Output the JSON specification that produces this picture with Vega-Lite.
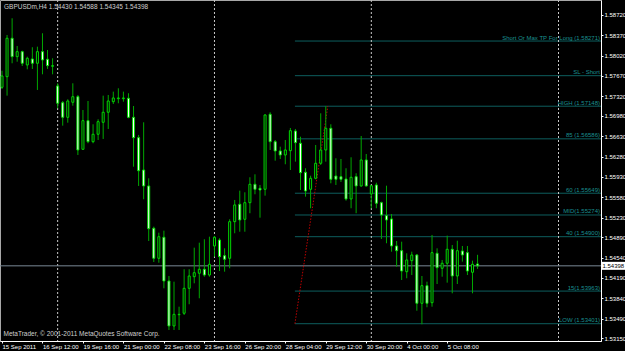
{
  "$schema": "https://vega.github.io/schema/vega-lite/v6.json",
  "width": 601,
  "height": 341,
  "autosize": {"type": "none"},
  "padding": {"left": 0, "top": 0, "right": 24, "bottom": 10},
  "background": "#000000",
  "config": {"view": {"stroke": "#a8a8a8", "strokeWidth": 1}, "axis": {"labelOverlap": false, "labelFlush": false, "grid": false}},
  "datasets": {
    "candles": [
      {"i":0,"o":1.57474,"h":1.57760,"l":1.57445,"c":1.57669},
      {"i":1,"o":1.57657,"h":1.58375,"l":1.57330,"c":1.58319},
      {"i":2,"o":1.58319,"h":1.58663,"l":1.57888,"c":1.58002},
      {"i":3,"o":1.58002,"h":1.58186,"l":1.57915,"c":1.58088},
      {"i":4,"o":1.58088,"h":1.58105,"l":1.57841,"c":1.57888},
      {"i":5,"o":1.57859,"h":1.58002,"l":1.57784,"c":1.57974},
      {"i":6,"o":1.57962,"h":1.58164,"l":1.57790,"c":1.57888},
      {"i":7,"o":1.57888,"h":1.58174,"l":1.57428,"c":1.58088},
      {"i":8,"o":1.58088,"h":1.58405,"l":1.57698,"c":1.57945},
      {"i":9,"o":1.57957,"h":1.58117,"l":1.57790,"c":1.57847},
      {"i":10,"o":1.57836,"h":1.57974,"l":1.57698,"c":1.57847},
      {"i":11,"o":1.57497,"h":1.57543,"l":1.57113,"c":1.57199},
      {"i":12,"o":1.57209,"h":1.57238,"l":1.56813,"c":1.56957},
      {"i":13,"o":1.56957,"h":1.57268,"l":1.56864,"c":1.57238},
      {"i":14,"o":1.57216,"h":1.57543,"l":1.57157,"c":1.57312},
      {"i":15,"o":1.57312,"h":1.57342,"l":1.56308,"c":1.56394},
      {"i":16,"o":1.56406,"h":1.57083,"l":1.56394,"c":1.56899},
      {"i":17,"o":1.56899,"h":1.57238,"l":1.56510,"c":1.56537},
      {"i":18,"o":1.56537,"h":1.56837,"l":1.56510,"c":1.56665},
      {"i":19,"o":1.56665,"h":1.56923,"l":1.56566,"c":1.56882},
      {"i":20,"o":1.56871,"h":1.57330,"l":1.56584,"c":1.57044},
      {"i":21,"o":1.57044,"h":1.57342,"l":1.56756,"c":1.57238},
      {"i":22,"o":1.57226,"h":1.57399,"l":1.57187,"c":1.57290},
      {"i":23,"o":1.57278,"h":1.57457,"l":1.57199,"c":1.57290},
      {"i":24,"o":1.57278,"h":1.57399,"l":1.57226,"c":1.57290},
      {"i":25,"o":1.57285,"h":1.57371,"l":1.56940,"c":1.56957},
      {"i":26,"o":1.56957,"h":1.57152,"l":1.56106,"c":1.56606},
      {"i":27,"o":1.56606,"h":1.56653,"l":1.55774,"c":1.56037},
      {"i":28,"o":1.56049,"h":1.56871,"l":1.55545,"c":1.55774},
      {"i":29,"o":1.55774,"h":1.55906,"l":1.54826,"c":1.55038},
      {"i":30,"o":1.55045,"h":1.55073,"l":1.54464,"c":1.54528},
      {"i":31,"o":1.54528,"h":1.54969,"l":1.54452,"c":1.54900},
      {"i":32,"o":1.54890,"h":1.55004,"l":1.54011,"c":1.54137},
      {"i":33,"o":1.54137,"h":1.54223,"l":1.53293,"c":1.53362},
      {"i":34,"o":1.53362,"h":1.54125,"l":1.53293,"c":1.53563},
      {"i":35,"o":1.53556,"h":1.53694,"l":1.53293,"c":1.53563},
      {"i":36,"o":1.53581,"h":1.54339,"l":1.53551,"c":1.54011},
      {"i":37,"o":1.54011,"h":1.54339,"l":1.53736,"c":1.54223},
      {"i":38,"o":1.54211,"h":1.54711,"l":1.54097,"c":1.54280},
      {"i":39,"o":1.54270,"h":1.54797,"l":1.53839,"c":1.54339},
      {"i":40,"o":1.54339,"h":1.54856,"l":1.54211,"c":1.54240},
      {"i":41,"o":1.54240,"h":1.54900,"l":1.54211,"c":1.54425},
      {"i":42,"o":1.54740,"h":1.54912,"l":1.54556,"c":1.54890},
      {"i":43,"o":1.54843,"h":1.54873,"l":1.54309,"c":1.54556},
      {"i":44,"o":1.54573,"h":1.54700,"l":1.54297,"c":1.54511},
      {"i":45,"o":1.54528,"h":1.55200,"l":1.54356,"c":1.55159},
      {"i":46,"o":1.55159,"h":1.55533,"l":1.54959,"c":1.55447},
      {"i":47,"o":1.55459,"h":1.55693,"l":1.54986,"c":1.55188},
      {"i":48,"o":1.55200,"h":1.55665,"l":1.54986,"c":1.55486},
      {"i":49,"o":1.55486,"h":1.55924,"l":1.55304,"c":1.55803},
      {"i":50,"o":1.55803,"h":1.55975,"l":1.55631,"c":1.55717},
      {"i":51,"o":1.55734,"h":1.55791,"l":1.55228,"c":1.55705},
      {"i":52,"o":1.55717,"h":1.57009,"l":1.55607,"c":1.56997},
      {"i":53,"o":1.57009,"h":1.57044,"l":1.56394,"c":1.56537},
      {"i":54,"o":1.56537,"h":1.56566,"l":1.56210,"c":1.56377},
      {"i":55,"o":1.56377,"h":1.56451,"l":1.56239,"c":1.56308},
      {"i":56,"o":1.56308,"h":1.56566,"l":1.56148,"c":1.56394},
      {"i":57,"o":1.56382,"h":1.56773,"l":1.56049,"c":1.56727},
      {"i":58,"o":1.56721,"h":1.56756,"l":1.56193,"c":1.56520},
      {"i":59,"o":1.56510,"h":1.56623,"l":1.55705,"c":1.56003},
      {"i":60,"o":1.56010,"h":1.56079,"l":1.55590,"c":1.55688},
      {"i":61,"o":1.55717,"h":1.55951,"l":1.55390,"c":1.55906},
      {"i":62,"o":1.55906,"h":1.56480,"l":1.55889,"c":1.56165},
      {"i":63,"o":1.56165,"h":1.57026,"l":1.56136,"c":1.56394},
      {"i":64,"o":1.56394,"h":1.57148,"l":1.56193,"c":1.56768},
      {"i":65,"o":1.56768,"h":1.56837,"l":1.55820,"c":1.55889},
      {"i":66,"o":1.55946,"h":1.56251,"l":1.55791,"c":1.55889},
      {"i":67,"o":1.55934,"h":1.56239,"l":1.55843,"c":1.55889},
      {"i":68,"o":1.55894,"h":1.56079,"l":1.55521,"c":1.55550},
      {"i":69,"o":1.55550,"h":1.56268,"l":1.55390,"c":1.55924},
      {"i":70,"o":1.55934,"h":1.55993,"l":1.55304,"c":1.55774},
      {"i":71,"o":1.55774,"h":1.56635,"l":1.55762,"c":1.56222},
      {"i":72,"o":1.56222,"h":1.56325,"l":1.55762,"c":1.55774},
      {"i":73,"o":1.55636,"h":1.55791,"l":1.55390,"c":1.55779},
      {"i":74,"o":1.55791,"h":1.55831,"l":1.55390,"c":1.55476},
      {"i":75,"o":1.55486,"h":1.55503,"l":1.54861,"c":1.55274},
      {"i":76,"o":1.55262,"h":1.55779,"l":1.54787,"c":1.55188},
      {"i":77,"o":1.55205,"h":1.55291,"l":1.54642,"c":1.54740},
      {"i":78,"o":1.54740,"h":1.54826,"l":1.54383,"c":1.54659},
      {"i":79,"o":1.54659,"h":1.54814,"l":1.54154,"c":1.54309},
      {"i":80,"o":1.54297,"h":1.54614,"l":1.54184,"c":1.54499},
      {"i":81,"o":1.54487,"h":1.54642,"l":1.54240,"c":1.54585},
      {"i":82,"o":1.54585,"h":1.54602,"l":1.53625,"c":1.53753},
      {"i":83,"o":1.53753,"h":1.54223,"l":1.53391,"c":1.54056},
      {"i":84,"o":1.54056,"h":1.54125,"l":1.53684,"c":1.53753},
      {"i":85,"o":1.53763,"h":1.54930,"l":1.53694,"c":1.54625},
      {"i":86,"o":1.54614,"h":1.54700,"l":1.54085,"c":1.54366},
      {"i":87,"o":1.54356,"h":1.54499,"l":1.54211,"c":1.54442},
      {"i":88,"o":1.54442,"h":1.54918,"l":1.54108,"c":1.54683},
      {"i":89,"o":1.54683,"h":1.54757,"l":1.53925,"c":1.54223},
      {"i":90,"o":1.54223,"h":1.54831,"l":1.54085,"c":1.54659},
      {"i":91,"o":1.54654,"h":1.54740,"l":1.54470,"c":1.54585},
      {"i":92,"o":1.54625,"h":1.54740,"l":1.54240,"c":1.54309},
      {"i":93,"o":1.54287,"h":1.54487,"l":1.53925,"c":1.54425},
      {"i":94,"o":1.54430,"h":1.54588,"l":1.54345,"c":1.54398}
    ],
    "levels": [
      {"s":57.9,"e":118.4,"p":1.58271,"t":"Short Or Max TP For Long (1.58271)"},
      {"s":57.9,"e":118.4,"p":1.57674,"t":"SL - Short"},
      {"s":57.9,"e":118.4,"p":1.57148,"t":"HIGH (1.57148)"},
      {"s":57.9,"e":118.4,"p":1.56586,"t":"85 (1.56586)"},
      {"s":57.9,"e":118.4,"p":1.55649,"t":"60 (1.55649)"},
      {"s":57.9,"e":118.4,"p":1.55274,"t":"MID(1.55274)"},
      {"s":57.9,"e":118.4,"p":1.54900,"t":"40 (1.54900)"},
      {"s":57.9,"e":118.4,"p":1.53963,"t":"15(1.53963)"},
      {"s":57.9,"e":118.4,"p":1.53401,"t":"LOW (1.53401)"}
    ],
    "header": [{"x":-0.395,"y":1.58978,"t":"GBPUSDm,H4  1.54430 1.54588 1.54345 1.54398"}],
    "seps": [{"i":11},{"i":42},{"i":73},{"i":110}],
    "fibo": [{"x1":57.9,"y1":1.53401,"x2":64.4,"y2":1.57148}],
    "price": [{"p":1.54398,"bx":118.5,"bx2":123.3,"t":"1.54398"}]
  },
  "layer": [
    {
      "data": {"name": "levels"},
      "mark": {"type": "rule", "color": "#0d5e5e", "strokeWidth": 1},
      "encoding": {
        "x": {"field": "s", "type": "quantitative", "title": null, "scale": {"domain": [-0.395, 118.4], "nice": false, "zero": false, "padding": 0},
          "axis": {"values": [0,8,16,24,32,40,48,56,64,72,80,88], "tickCount": 30,
            "labelExpr": "['15 Sep 2011','16 Sep 12:00','19 Sep 16:00','21 Sep 00:00','22 Sep 08:00','23 Sep 16:00','26 Sep 20:00','28 Sep 04:00','29 Sep 12:00','30 Sep 20:00','4 Oct 00:00','5 Oct 08:00'][round(datum.value/8)]",
            "labelAlign": "left", "labelBaseline": "top", "labelPadding": 0, "tickSize": 2, "tickColor": "#ffffff", "domainColor": "#ffffff",
            "labelColor": "#ffffff", "labelFont": "Liberation Sans", "labelFontSize": 6, "grid": false, "labelFlush": false, "labelOverlap": false,
            "title": "MetaTrader, © 2001-2011 MetaQuotes Software Corp.", "titleX": 3, "titleY": -5, "titleAlign": "left", "titleAnchor": "start",
            "titleBaseline": "bottom", "titleColor": "#d0d0d0", "titleFont": "Liberation Sans", "titleFontSize": 6.5, "titleFontWeight": "normal"}},
        "x2": {"field": "e"},
        "y": {"field": "p", "type": "quantitative", "title": null, "scale": {"domain": [1.53103, 1.58978], "nice": false, "zero": false, "padding": 0},
          "axis": {"orient": "right", "values": [1.5872,1.5837,1.5802,1.5767,1.5732,1.5698,1.5663,1.5628,1.5593,1.5558,1.5523,1.5489,1.5454,1.5419,1.5384,1.5349,1.5315], "tickCount": 40,
            "format": ".5f", "labelAlign": "left", "labelBaseline": "middle", "labelPadding": 1, "tickSize": 2, "tickColor": "#ffffff", "domainColor": "#ffffff",
            "labelColor": "#ffffff", "labelFont": "Liberation Sans", "labelFontSize": 6, "grid": false, "labelFlush": false, "labelOverlap": false}}
      }
    },
    {
      "data": {"name": "seps"},
      "mark": {"type": "rule", "color": "#c8c8c8", "strokeWidth": 1, "strokeDash": [2, 2]},
      "encoding": {
        "x": {"field": "i", "type": "quantitative"}
      }
    },
    {
      "data": {"name": "levels"},
      "mark": {"type": "text", "align": "right", "baseline": "bottom", "dx": -1, "dy": -0.5, "font": "Liberation Sans", "fontSize": 6, "color": "#1a9090"},
      "encoding": {
        "x": {"field": "e", "type": "quantitative"},
        "y": {"field": "p", "type": "quantitative"},
        "text": {"field": "t"}
      }
    },
    {
      "data": {"name": "header"},
      "mark": {"type": "text", "align": "left", "baseline": "top", "dx": 4, "dy": 4, "font": "Liberation Sans", "fontSize": 6.5, "color": "#d0d0d0"},
      "encoding": {
        "x": {"field": "x", "type": "quantitative"},
        "y": {"field": "y", "type": "quantitative"},
        "text": {"field": "t"}
      }
    },
    {
      "data": {"name": "price"},
      "mark": {"type": "rule", "color": "#7a8896", "strokeWidth": 1},
      "encoding": {"y": {"field": "p", "type": "quantitative"}}
    },
    {
      "data": {"name": "fibo"},
      "mark": {"type": "rule", "color": "#c00000", "strokeWidth": 1, "strokeDash": [1.5, 1.5]},
      "encoding": {
        "x": {"field": "x1", "type": "quantitative"},
        "x2": {"field": "x2"},
        "y": {"field": "y1", "type": "quantitative"},
        "y2": {"field": "y2"}
      }
    },
    {
      "data": {"name": "candles"},
      "mark": {"type": "rule", "color": "#00a800", "strokeWidth": 1},
      "encoding": {
        "x": {"field": "i", "type": "quantitative"},
        "y": {"field": "l", "type": "quantitative"},
        "y2": {"field": "h"}
      }
    },
    {
      "data": {"name": "candles"},
      "mark": {"type": "bar", "size": 2, "orient": "vertical", "stroke": "#00d800", "strokeWidth": 1},
      "encoding": {
        "x": {"field": "i", "type": "quantitative"},
        "y": {"field": "o", "type": "quantitative"},
        "y2": {"field": "c"},
        "fill": {"condition": {"test": "datum.c < datum.o", "value": "#ffffff"}, "value": "#000000"}
      }
    },
    {
      "data": {"name": "price"},
      "mark": {"type": "bar", "orient": "horizontal", "size": 8, "color": "#ffffff"},
      "encoding": {
        "x": {"field": "bx", "type": "quantitative"},
        "x2": {"field": "bx2"},
        "y": {"field": "p", "type": "quantitative"}
      }
    },
    {
      "data": {"name": "price"},
      "mark": {"type": "text", "align": "left", "baseline": "middle", "dx": 1, "font": "Liberation Sans", "fontSize": 6, "color": "#000000"},
      "encoding": {
        "x": {"field": "bx", "type": "quantitative"},
        "y": {"field": "p", "type": "quantitative"},
        "text": {"field": "t"}
      }
    }
  ]
}
